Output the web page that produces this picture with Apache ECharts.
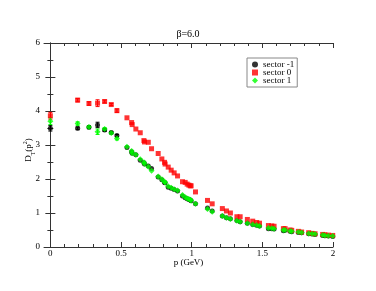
<!DOCTYPE html>
<html>
<head>
<meta charset="utf-8">
<script src="https://cdn.jsdelivr.net/npm/echarts@6/dist/echarts.min.js"></script>
<style>html,body{margin:0;padding:0;background:#fff}#c{width:376px;height:291px}</style>
</head>
<body>
<div id="c"></div>
<script>
// momenta (GeV), shared by all three sectors
const pValues = [0, 0.193, 0.273, 0.334, 0.384, 0.431, 0.471, 0.542, 0.575, 0.579,
  0.605, 0.636, 0.662, 0.666, 0.693, 0.716, 0.763, 0.789, 0.808, 0.812,
  0.834, 0.855, 0.876, 0.900, 0.935, 0.954, 0.968, 0.980, 0.990, 0.996,
  1.027, 1.112, 1.145, 1.217, 1.246, 1.274, 1.320, 1.343, 1.394, 1.432,
  1.460, 1.480, 1.543, 1.567, 1.583, 1.649, 1.661, 1.696, 1.708, 1.755,
  1.778, 1.828, 1.852, 1.873, 1.927, 1.943, 1.967, 1.998];
const sectorM1 = [3.49, 3.49, 3.52, 3.59, 3.44, 3.37, 3.28, 2.93, 2.80, 2.76,
  2.71, 2.55, 2.48, 2.44, 2.38, 2.31, 2.06, 1.98, 1.90, 1.89,
  1.76, 1.73, 1.69, 1.65, 1.50, 1.45, 1.42, 1.40, 1.38, 1.36,
  1.27, 1.15, 1.06, 0.91, 0.86, 0.83, 0.78, 0.74, 0.70, 0.66,
  0.64, 0.62, 0.54, 0.54, 0.53, 0.48, 0.49, 0.46, 0.45, 0.43,
  0.42, 0.39, 0.38, 0.37, 0.34, 0.33, 0.32, 0.31];
const sector0 = [3.86, 4.32, 4.22, 4.23, 4.28, 4.19, 4.01, 3.80, 3.66, 3.60,
  3.47, 3.36, 3.13, 3.09, 3.08, 2.89, 2.75, 2.59, 2.49, 2.44,
  2.35, 2.26, 2.18, 2.09, 1.92, 1.90, 1.85, 1.82, 1.80, 1.80,
  1.62, 1.37, 1.27, 1.13, 1.06, 1.00, 0.89, 0.89, 0.81, 0.76,
  0.72, 0.70, 0.63, 0.62, 0.61, 0.54, 0.54, 0.50, 0.49, 0.46,
  0.44, 0.42, 0.40, 0.39, 0.37, 0.36, 0.35, 0.34];
const sector1 = [3.70, 3.63, 3.53, 3.39, 3.47, 3.35, 3.19, 2.95, 2.82, 2.76,
  2.71, 2.58, 2.49, 2.45, 2.36, 2.24, 2.07, 1.99, 1.92, 1.90,
  1.79, 1.74, 1.70, 1.66, 1.53, 1.46, 1.43, 1.41, 1.39, 1.37,
  1.27, 1.12, 1.04, 0.91, 0.86, 0.82, 0.77, 0.74, 0.70, 0.66,
  0.64, 0.62, 0.56, 0.55, 0.54, 0.50, 0.50, 0.47, 0.46, 0.44,
  0.43, 0.40, 0.39, 0.38, 0.35, 0.34, 0.33, 0.32];
// error bars for the first (low-momentum) points; the rest are hidden by the markers
const errM1 = [0.08, 0.04, 0.04, 0.08, 0.04, 0.03, 0.03];
const err0  = [0.10, 0.05, 0.05, 0.10, 0.04, 0.03, 0.05];
const err1  = [0.10, 0.05, 0.04, 0.08, 0.04, 0.03, 0.04];

const xMajor = [0, 0.5, 1, 1.5, 2];
const xMinor = [0.1,0.2,0.3,0.4,0.6,0.7,0.8,0.9,1.1,1.2,1.3,1.4,1.6,1.7,1.8,1.9];
const yTicks = [0, 1, 2, 3, 4, 5, 6];

const FONT = '"Liberation Serif", "DejaVu Serif", serif';
const AX = '#333';

function pts(vals) { return vals.map((v, i) => [pValues[i], v]); }
function errPts(vals, errs) { return errs.map((e, i) => [pValues[i], vals[i], e]); }

function errSeries(vals, errs, color) {
  return {
    type: 'custom', xAxisIndex: 0, yAxisIndex: 0, silent: true, z: 1,
    data: errPts(vals, errs),
    renderItem: function (params, api) {
      const x = api.value(0), y = api.value(1), e = api.value(2);
      const top = api.coord([x, y + e]);
      const bot = api.coord([x, y - e]);
      const cw = 2;
      const st = { stroke: color, lineWidth: 1 };
      return { type: 'group', children: [
        { type: 'line', shape: { x1: top[0], y1: top[1], x2: bot[0], y2: bot[1] }, style: st },
        { type: 'line', shape: { x1: top[0] - cw, y1: top[1], x2: top[0] + cw, y2: top[1] }, style: st },
        { type: 'line', shape: { x1: bot[0] - cw, y1: bot[1], x2: bot[0] + cw, y2: bot[1] }, style: st }
      ]};
    }
  };
}

const xBase = { type: 'value', min: -0.045, max: 2, gridIndex: 0, splitLine: { show: false } };
const chart = echarts.init(document.getElementById('c'));
chart.setOption({
  animation: false,
  backgroundColor: '#fff',
  title: { text: 'β=6.0', left: 'center', top: 24,
    textStyle: { fontFamily: FONT, fontSize: 10, fontWeight: 'normal', color: '#000' } },
  grid: { left: 44, right: 43, top: 43, bottom: 44, containLabel: false },
  legend: {
    orient: 'vertical', left: 247, top: 58,
    padding: [2, 3, 2, 5], itemGap: -1, itemWidth: 6, itemHeight: 6, itemTextGap: 5,
    backgroundColor: '#fff', borderColor: '#888', borderWidth: 1, borderRadius: 0,
    textStyle: { fontFamily: FONT, fontSize: 9, color: '#000', lineHeight: 9 },
    data: [
      { name: 'sector -1', icon: 'circle' },
      { name: 'sector 0', icon: 'rect' },
      { name: 'sector 1', icon: 'diamond' }
    ]
  },
  xAxis: [
    Object.assign({}, xBase, {
      position: 'bottom',
      axisLine: { show: true, lineStyle: { color: AX, width: 1 } },
      axisTick: { show: true, inside: true, length: 5, customValues: xMajor, lineStyle: { color: AX } },
      axisLabel: { show: true, customValues: xMajor, fontFamily: FONT, fontSize: 9, color: '#000', margin: 2 },
      name: 'p (GeV)', nameLocation: 'middle', nameGap: 11, nameMoveOverlap: false,
      nameTextStyle: { fontFamily: FONT, fontSize: 9, color: '#000' }
    }),
    Object.assign({}, xBase, {
      position: 'bottom',
      axisLine: { show: false },
      axisTick: { show: true, inside: true, length: 3, customValues: xMinor, lineStyle: { color: AX } },
      axisLabel: { show: false }
    }),
    Object.assign({}, xBase, {
      position: 'top',
      axisLine: { show: true, lineStyle: { color: AX, width: 1 } },
      axisTick: { show: true, inside: true, length: 5, customValues: xMajor, lineStyle: { color: AX } },
      axisLabel: { show: false }
    }),
    Object.assign({}, xBase, {
      position: 'top',
      axisLine: { show: false },
      axisTick: { show: true, inside: true, length: 3, customValues: xMinor, lineStyle: { color: AX } },
      axisLabel: { show: false }
    })
  ],
  yAxis: [
    {
      type: 'value', min: 0, max: 6, interval: 1, position: 'left',
      splitLine: { show: false },
      axisLine: { show: true, lineStyle: { color: AX, width: 1 } },
      axisTick: { show: true, inside: true, length: 5, lineStyle: { color: AX } },
      minorTick: { show: true, splitNumber: 2, length: 3, lineStyle: { color: AX } },
      axisLabel: { fontFamily: FONT, fontSize: 9, color: '#000', margin: 4,
        customValues: yTicks },
      name: '{a|D}{s|T}{a|(p}{u|2}{a|)}', nameLocation: 'middle', nameGap: 8, nameMoveOverlap: false,
      nameTextStyle: { fontFamily: FONT, fontSize: 9, color: '#000', padding: [0, 10, 0, 0],
        rich: {
          a: { fontFamily: FONT, fontSize: 9, color: '#000', lineHeight: 14, verticalAlign: 'middle' },
          s: { fontFamily: FONT, fontSize: 6, color: '#000', lineHeight: 14, verticalAlign: 'bottom' },
          u: { fontFamily: FONT, fontSize: 6, color: '#000', lineHeight: 14, verticalAlign: 'top' }
        } }
    },
    {
      type: 'value', min: 0, max: 6, interval: 1, position: 'right',
      splitLine: { show: false },
      axisLine: { show: true, lineStyle: { color: AX, width: 1 } },
      axisTick: { show: true, inside: true, length: 5, lineStyle: { color: AX } },
      minorTick: { show: true, splitNumber: 2, length: 3, lineStyle: { color: AX } },
      axisLabel: { show: false }
    }
  ],
  series: [
    errSeries(sectorM1, errM1, '#000'),
    errSeries(sector0, err0, '#ff0000'),
    errSeries(sector1, err1, '#00ff00'),
    { name: 'sector -1', type: 'scatter', xAxisIndex: 0, yAxisIndex: 0, symbol: 'circle', symbolSize: 5,
      itemStyle: { color: '#000' }, data: pts(sectorM1), z: 2 },
    { name: 'sector 0', type: 'scatter', xAxisIndex: 0, yAxisIndex: 0, symbol: 'rect', symbolSize: 5,
      itemStyle: { color: '#ff0000' }, data: pts(sector0), z: 3 },
    { name: 'sector 1', type: 'scatter', xAxisIndex: 0, yAxisIndex: 0, symbol: 'diamond', symbolSize: 6,
      itemStyle: { color: '#00ff00' }, data: pts(sector1), z: 4 }
  ]
});
</script>
</body>
</html>
